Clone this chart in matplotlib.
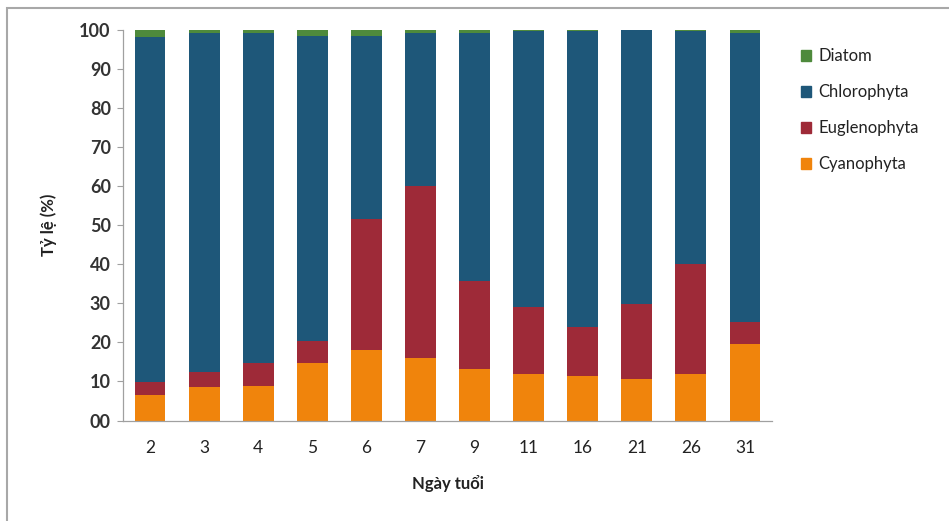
import matplotlib
matplotlib.use("Agg")
import matplotlib.pyplot as plt
import numpy as np
from matplotlib.patches import Rectangle, Patch

days = ["2", "3", "4", "5", "6", "7", "9", "11", "16", "21", "26", "31"]
cyanophyta = [6.4, 8.5, 8.8, 14.8, 18.0, 15.9, 13.2, 11.8, 11.5, 10.6, 11.8, 19.6]
euglenophyta = [3.5, 3.8, 5.9, 5.6, 33.5, 44.1, 22.5, 17.2, 12.5, 19.1, 28.2, 5.5]
chlorophyta = [88.3, 86.9, 84.5, 77.9, 46.8, 39.2, 63.5, 70.6, 75.7, 70.2, 59.6, 74.1]
diatom = [1.8, 0.8, 0.8, 1.7, 1.7, 0.8, 0.8, 0.4, 0.3, 0.1, 0.4, 0.8]
yticks = [0, 10, 20, 30, 40, 50, 60, 70, 80, 90, 100]
ytick_labels = ["00", "10", "20", "30", "40", "50", "60", "70", "80", "90", "100"]

c_cy = "#F0840C"
c_eu = "#9E2A38"
c_ch = "#1E5779"
c_di = "#4E8A3C"

plt.rcParams['font.family'] = ['Lato', 'DejaVu Sans']

W, H = 949, 521
fig = plt.figure(figsize=(W / 100, H / 100), dpi=100)
ax = fig.add_axes([123 / W, 1 - 420.5 / H, (772 - 123) / W, (420.5 - 29.7) / H])

x = np.arange(len(days))
cy = np.array(cyanophyta)
eu = np.array(euglenophyta)
ch = np.array(chlorophyta)
di = np.array(diatom)
bw = 0.57
ax.bar(x, cy, bw, color=c_cy, label="Cyanophyta")
ax.bar(x, eu, bw, bottom=cy, color=c_eu, label="Euglenophyta")
ax.bar(x, ch, bw, bottom=cy + eu, color=c_ch, label="Chlorophyta")
ax.bar(x, di, bw, bottom=cy + eu + ch, color=c_di, label="Diatom")

ax.set_xlim(-0.5, len(days) - 0.5)
ax.set_ylim(0, 100)
ax.set_yticks(yticks)
ax.set_yticklabels(ytick_labels, fontsize=13, fontweight='bold', color='#333333')
ax.set_xticks(x)
ax.set_xticklabels(days, fontsize=12.5, color='#222222')
ax.tick_params(axis='y', length=4.3, width=0.8, color='#A0A0A0', pad=4.5)
ax.tick_params(axis='x', length=0, pad=14)
for s in ['top', 'right']:
    ax.spines[s].set_visible(False)
for s in ['left', 'bottom']:
    ax.spines[s].set_color('#A0A0A0')
    ax.spines[s].set_linewidth(0.9)

ax.set_ylabel("Tỷ lệ (%)", fontsize=12, fontweight='bold', color='#222222', labelpad=16)
ax.set_xlabel("Ngày tuổi", fontsize=12, fontweight='bold', color='#222222', labelpad=14)

handles = [Patch(color=c_di), Patch(color=c_ch), Patch(color=c_eu), Patch(color=c_cy)]
labels = ["Diatom", "Chlorophyta", "Euglenophyta", "Cyanophyta"]
leg = fig.legend(handles, labels, loc='upper left', bbox_to_anchor=(793 / W, 1 - 40 / H),
                 frameon=False, fontsize=12, handlelength=0.6, handleheight=0.6,
                 handletextpad=0.4, labelspacing=1.2, borderpad=0)
for t in leg.get_texts():
    t.set_color('#222222')

fig.patches.append(Rectangle((7 / W, -0.01), 1.01, 1 - 8 / H + 0.01, transform=fig.transFigure,
                             fill=False, edgecolor='#A8A8A8', linewidth=1.5))

fig.savefig("out.png", dpi=100)
